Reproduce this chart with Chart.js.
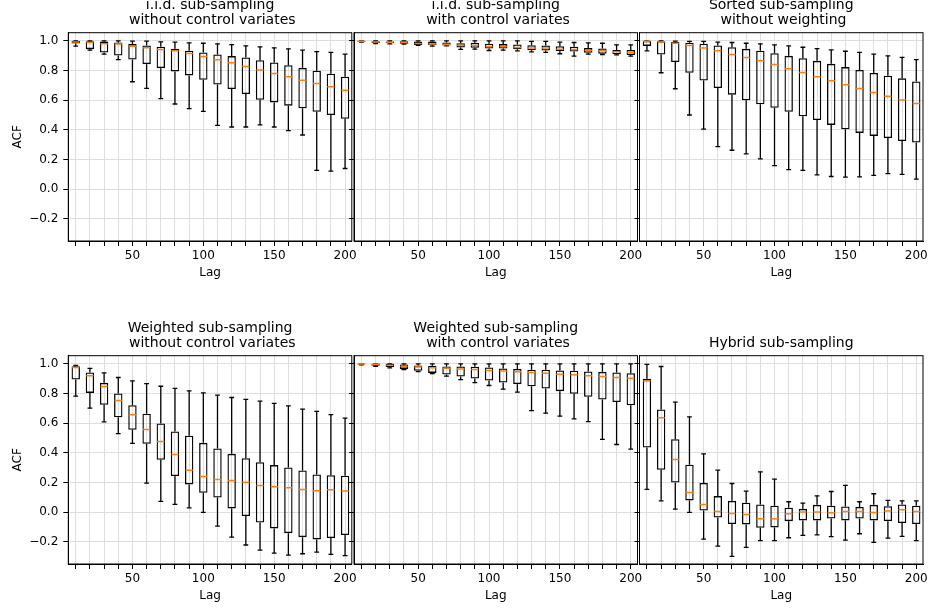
<!DOCTYPE html>
<html>
<head>
<meta charset="utf-8">
<script src="https://cdn.jsdelivr.net/npm/chart.js@4.4.1/dist/chart.umd.min.js"></script>
<style>
  html, body { margin: 0; padding: 0; background: #fff; }
  body { width: 930px; height: 611px; position: relative; overflow: hidden; }
  .panel { position: absolute; }
</style>
</head>
<body>
<script>
const lags = [10, 20, 30, 40, 50, 60, 70, 80, 90, 100, 110, 120, 130, 140, 150, 160, 170, 180, 190, 200];
const xLabelled = [50, 100, 150, 200];
const yTicks = [-0.2, 0, 0.2, 0.4, 0.6, 0.8, 1.0];

// i.i.d. sub-sampling without control variates
const iidLow  = [0.965, 0.937, 0.910, 0.874, 0.724, 0.679, 0.610, 0.574, 0.543, 0.525, 0.430, 0.419, 0.419, 0.433, 0.419, 0.395, 0.365, 0.126, 0.121, 0.139];
const iidQ1   = [0.982, 0.944, 0.921, 0.901, 0.874, 0.843, 0.816, 0.794, 0.767, 0.738, 0.706, 0.675, 0.641, 0.603, 0.585, 0.563, 0.545, 0.522, 0.500, 0.475];
const iidMed  = [0.993, 0.989, 0.980, 0.978, 0.964, 0.953, 0.942, 0.933, 0.915, 0.895, 0.872, 0.852, 0.827, 0.803, 0.780, 0.758, 0.735, 0.713, 0.691, 0.666];
const iidQ3   = [0.999, 0.998, 0.995, 0.989, 0.978, 0.969, 0.960, 0.946, 0.933, 0.922, 0.908, 0.897, 0.888, 0.870, 0.854, 0.836, 0.818, 0.798, 0.778, 0.758];
const iidHigh = [1.0, 1.0, 1.0, 1.0, 0.998, 0.998, 0.993, 0.991, 0.987, 0.984, 0.980, 0.975, 0.966, 0.960, 0.953, 0.946, 0.937, 0.928, 0.922, 0.910];

// i.i.d. sub-sampling with control variates
const iidCvLow  = [0.992, 0.982, 0.980, 0.978, 0.969, 0.964, 0.966, 0.942, 0.944, 0.935, 0.937, 0.933, 0.926, 0.922, 0.913, 0.897, 0.910, 0.908, 0.906, 0.897];
const iidCvQ1   = [0.994, 0.985, 0.983, 0.981, 0.972, 0.971, 0.969, 0.955, 0.953, 0.948, 0.948, 0.944, 0.937, 0.935, 0.930, 0.928, 0.919, 0.913, 0.910, 0.904];
const iidCvMed  = [0.998, 0.993, 0.991, 0.991, 0.982, 0.978, 0.975, 0.971, 0.971, 0.962, 0.962, 0.955, 0.951, 0.951, 0.944, 0.942, 0.937, 0.933, 0.926, 0.922];
const iidCvQ3   = [1.0, 0.998, 0.996, 0.998, 0.995, 0.995, 0.989, 0.984, 0.987, 0.980, 0.978, 0.975, 0.971, 0.969, 0.964, 0.960, 0.951, 0.948, 0.939, 0.939];
const iidCvHigh = [1.0, 1.0, 1.0, 1.0, 1.0, 1.0, 1.0, 1.0, 1.0, 1.0, 1.0, 1.0, 0.996, 0.996, 0.991, 0.989, 0.987, 0.984, 0.973, 0.973];

// Sorted sub-sampling without weighting
const sortedLow  = [0.933, 0.785, 0.677, 0.500, 0.404, 0.287, 0.262, 0.238, 0.204, 0.159, 0.132, 0.126, 0.096, 0.085, 0.081, 0.083, 0.092, 0.105, 0.099, 0.067];
const sortedQ1   = [0.966, 0.908, 0.857, 0.785, 0.733, 0.682, 0.637, 0.599, 0.572, 0.549, 0.522, 0.491, 0.466, 0.433, 0.404, 0.379, 0.359, 0.345, 0.325, 0.314];
const sortedMed  = [0.998, 0.993, 0.984, 0.969, 0.951, 0.933, 0.908, 0.888, 0.865, 0.841, 0.812, 0.787, 0.758, 0.731, 0.704, 0.679, 0.652, 0.626, 0.601, 0.578];
const sortedQ3   = [1.0, 0.998, 0.993, 0.987, 0.980, 0.969, 0.957, 0.946, 0.933, 0.917, 0.899, 0.883, 0.865, 0.845, 0.823, 0.803, 0.783, 0.765, 0.747, 0.726];
const sortedHigh = [1.0, 1.0, 0.998, 0.996, 0.996, 0.991, 0.989, 0.984, 0.980, 0.973, 0.966, 0.957, 0.948, 0.939, 0.930, 0.922, 0.910, 0.899, 0.888, 0.874];

// Weighted sub-sampling without control variates
const wLow  = [0.782, 0.701, 0.609, 0.530, 0.463, 0.196, 0.072, 0.052, 0.029, -0.002, -0.094, -0.169, -0.222, -0.256, -0.276, -0.290, -0.281, -0.270, -0.285, -0.294];
const wQ1   = [0.894, 0.804, 0.724, 0.640, 0.555, 0.461, 0.353, 0.243, 0.187, 0.130, 0.099, 0.025, -0.027, -0.070, -0.110, -0.142, -0.169, -0.184, -0.175, -0.155];
const wMed  = [0.975, 0.919, 0.847, 0.753, 0.656, 0.557, 0.476, 0.389, 0.283, 0.240, 0.220, 0.213, 0.202, 0.180, 0.171, 0.164, 0.153, 0.144, 0.151, 0.142];
const wQ3   = [0.984, 0.942, 0.872, 0.800, 0.721, 0.663, 0.598, 0.544, 0.515, 0.467, 0.429, 0.393, 0.364, 0.337, 0.317, 0.301, 0.281, 0.254, 0.249, 0.245];
const wHigh = [0.989, 0.969, 0.939, 0.908, 0.885, 0.867, 0.849, 0.834, 0.818, 0.804, 0.789, 0.773, 0.760, 0.748, 0.733, 0.717, 0.694, 0.679, 0.658, 0.634];

// Weighted sub-sampling with control variates
const wCvLow  = [0.993, 0.984, 0.973, 0.962, 0.948, 0.935, 0.917, 0.894, 0.874, 0.854, 0.829, 0.809, 0.685, 0.667, 0.647, 0.629, 0.611, 0.490, 0.456, 0.425];
const wCvQ1   = [0.995, 0.987, 0.978, 0.966, 0.953, 0.939, 0.928, 0.915, 0.901, 0.888, 0.874, 0.863, 0.849, 0.834, 0.816, 0.798, 0.778, 0.760, 0.742, 0.721];
const wCvMed  = [0.999, 0.998, 0.991, 0.984, 0.978, 0.973, 0.971, 0.966, 0.962, 0.955, 0.951, 0.946, 0.942, 0.937, 0.930, 0.926, 0.919, 0.915, 0.908, 0.903];
const wCvQ3   = [1.0, 1.0, 1.0, 0.996, 0.989, 0.987, 0.982, 0.982, 0.980, 0.975, 0.969, 0.966, 0.960, 0.960, 0.955, 0.953, 0.948, 0.946, 0.942, 0.937];
const wCvHigh = [1.0, 1.0, 1.0, 1.0, 1.0, 1.0, 1.0, 1.0, 1.0, 1.0, 1.0, 1.0, 1.0, 1.0, 1.0, 1.0, 1.0, 1.0, 1.0, 1.0];

// Hybrid sub-sampling
const hybLow  = [0.153, 0.076, 0.020, -0.002, -0.182, -0.229, -0.299, -0.238, -0.193, -0.193, -0.173, -0.157, -0.153, -0.166, -0.189, -0.146, -0.204, -0.175, -0.164, -0.193];
const hybQ1   = [0.436, 0.285, 0.200, 0.079, 0.011, -0.036, -0.081, -0.083, -0.106, -0.103, -0.061, -0.056, -0.056, -0.043, -0.056, -0.043, -0.056, -0.061, -0.074, -0.081];
const hybMed  = [0.885, 0.636, 0.355, 0.133, 0.052, 0.004, -0.009, -0.016, -0.045, -0.045, -0.011, 0.0, 0.0, -0.004, 0.004, 0.004, -0.002, 0.007, 0.016, 0.004];
const hybQ3   = [0.899, 0.692, 0.492, 0.319, 0.196, 0.108, 0.076, 0.063, 0.052, 0.043, 0.029, 0.022, 0.049, 0.043, 0.038, 0.034, 0.049, 0.040, 0.052, 0.043];
const hybHigh = [0.996, 0.982, 0.742, 0.643, 0.393, 0.283, 0.193, 0.142, 0.272, 0.222, 0.070, 0.061, 0.110, 0.139, 0.180, 0.070, 0.124, 0.079, 0.076, 0.076];

const panels = [
  { title: ["i.i.d. sub-sampling", " without control variates"], low: iidLow, q1: iidQ1, med: iidMed, q3: iidQ3, high: iidHigh },
  { title: ["i.i.d. sub-sampling", " with control variates"], low: iidCvLow, q1: iidCvQ1, med: iidCvMed, q3: iidCvQ3, high: iidCvHigh },
  { title: ["Sorted sub-sampling", " without weighting"], low: sortedLow, q1: sortedQ1, med: sortedMed, q3: sortedQ3, high: sortedHigh },
  { title: ["Weighted sub-sampling", " without control variates"], low: wLow, q1: wQ1, med: wMed, q3: wQ3, high: wHigh },
  { title: ["Weighted sub-sampling", " with control variates"], low: wCvLow, q1: wCvQ1, med: wCvMed, q3: wCvQ3, high: wCvHigh },
  { title: ["Hybrid sub-sampling"], low: hybLow, q1: hybQ1, med: hybMed, q3: hybQ3, high: hybHigh }
];

// page layout of the six axes
const colLeft = [68.3, 354, 639.5];
const canvasLeft = [0, 342, 628];
const rowTop = [32.7, 355.7];
const rowCanvasTop = [-10, 300];
const plotW = 283.5;
const plotH = 208.3;
const FONT = "'DejaVu Sans', sans-serif";

Chart.defaults.font.family = FONT;
Chart.defaults.color = "#000";
Chart.defaults.animation = false;

const framePlugin = {
  id: "frame",
  afterDatasetsDraw(chart) {
    const { ctx, chartArea: a } = chart;
    ctx.save();
    ctx.strokeStyle = "#000";
    ctx.lineWidth = 1;
    ctx.strokeRect(a.left, a.top, a.right - a.left, a.bottom - a.top);
    ctx.restore();
  }
};

panels.forEach((p, i) => {
  const r = Math.floor(i / 3), c = i % 3;
  const L = colLeft[c] - canvasLeft[c];
  const T = rowTop[r] - rowCanvasTop[r];
  const w = Math.ceil(L + plotW + 14);
  const h = Math.ceil(T + plotH + 50);
  const B = h - T - plotH;

  const div = document.createElement("div");
  div.className = "panel";
  div.style.left = canvasLeft[c] + "px";
  div.style.top = rowCanvasTop[r] + "px";
  const cv = document.createElement("canvas");
  cv.width = w;
  cv.height = h;
  cv.style.width = w + "px";
  cv.style.height = h + "px";
  div.appendChild(cv);
  document.body.appendChild(div);

  const medians = lags.map((x, k) => ({ x, y: p.med[k] }));
  const boxes = lags.map((x, k) => ({ x, y: [p.q1[k], p.q3[k]] }));
  const whiskers = lags.map((x, k) => ({ x, y: [p.low[k], p.q1[k]] }))
    .concat(lags.map((x, k) => ({ x, y: [p.q3[k], p.high[k]] })));
  const caps = lags.map((x, k) => ({ x, y: p.low[k] }))
    .concat(lags.map((x, k) => ({ x, y: p.high[k] })));

  new Chart(cv, {
    type: "bar",
    data: {
      datasets: [
        {
          type: "scatter",
          data: medians,
          pointStyle: "line",
          pointRadius: 3.6,
          pointHoverRadius: 3.6,
          pointBorderColor: "#ff7f0e",
          pointBackgroundColor: "#ff7f0e",
          pointBorderWidth: 1.5
        },
        {
          type: "bar",
          data: boxes,
          grouped: false,
          barThickness: 8.4,
          inflateAmount: 0,
          backgroundColor: "rgba(0,0,0,0)",
          borderColor: "#000",
          borderWidth: 1.3,
          borderSkipped: false
        },
        {
          type: "scatter",
          data: caps,
          pointStyle: "line",
          pointRadius: 2.4,
          pointHoverRadius: 2.4,
          pointBorderColor: "#000",
          pointBackgroundColor: "#000",
          pointBorderWidth: 1.3
        },
        {
          type: "bar",
          data: whiskers,
          grouped: false,
          barThickness: 1.3,
          inflateAmount: 0,
          backgroundColor: "#000",
          borderWidth: 0
        }
      ]
    },
    options: {
      responsive: false,
      events: [],
      layout: {
        autoPadding: false,
        padding: { left: 0, right: w - L - plotW, top: T - (p.title.length * 15 + 5), bottom: 0 }
      },
      plugins: {
        legend: { display: false },
        tooltip: { enabled: false },
        title: {
          display: true,
          fullSize: false,
          text: p.title,
          color: "#000",
          font: { family: FONT, size: 14, weight: "normal", lineHeight: 15 / 14 },
          padding: { top: 0, bottom: 5 }
        }
      },
      scales: {
        x: {
          type: "linear",
          min: 4.75,
          max: 204.75,
          offset: false,
          afterBuildTicks: (s) => { s.ticks = lags.map(v => ({ value: v })); },
          afterFit: (s) => { s.height = B; },
          ticks: {
            autoSkip: false,
            maxRotation: 0,
            padding: 2.4,
            font: { family: FONT, size: 12 },
            color: "#000",
            callback: (v) => xLabelled.includes(v) ? String(v) : ""
          },
          grid: { offset: false, color: "#dedede", lineWidth: 1, tickColor: "#000", tickLength: 5, tickWidth: 1 },
          border: { display: true, color: "#000", width: 1 },
          title: {
            display: true,
            text: "Lag",
            color: "#000",
            font: { family: FONT, size: 12 },
            padding: { top: 0, bottom: B - 39.4 }
          }
        },
        y: {
          type: "linear",
          min: -0.35,
          max: 1.055,
          afterBuildTicks: (s) => { s.ticks = yTicks.map(v => ({ value: v })); },
          afterFit: (s) => { s.width = L; },
          ticks: {
            display: c === 0,
            padding: 5,
            font: { family: FONT, size: 12 },
            color: "#000",
            callback: (v) => v < 0 ? "\u2212" + (-v).toFixed(1) : v.toFixed(1)
          },
          grid: { color: "#dedede", lineWidth: 1, tickColor: "#000", tickLength: 5, tickWidth: 1 },
          border: { display: true, color: "#000", width: 1 },
          title: {
            display: c === 0,
            text: "ACF",
            color: "#000",
            font: { family: FONT, size: 12 },
            padding: { top: 10.5, bottom: 0 }
          }
        }
      }
    },
    plugins: [framePlugin]
  });
});
</script>
</body>
</html>
